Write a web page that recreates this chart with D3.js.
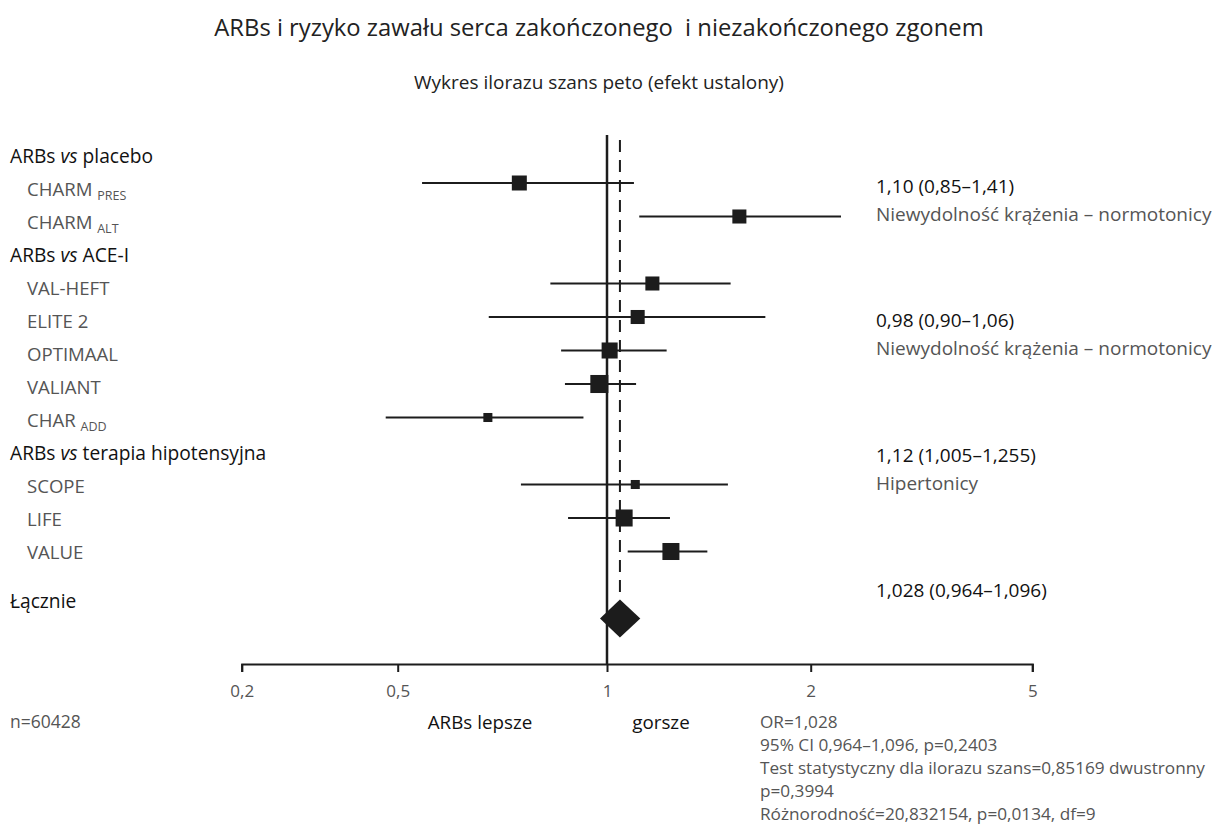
<!DOCTYPE html>
<html>
<head>
<meta charset="utf-8">
<script src="https://cdn.jsdelivr.net/npm/d3@7"></script>
<style>
  body { margin: 0; background: #fff; }
  text { font-family: "Open Sans", sans-serif; }
</style>
</head>
<body>
<div id="svg"></div>
<script>

// Values (odds ratio, 95% CI)

var study_names = ["CHARM", "CHARM", "VAL-HEFT", "ELITE 2", "OPTIMAAL",
                   "VALIANT", "CHAR", "SCOPE", "LIFE", "VALUE"];
var study_subs  = ["PRES", "ALT", "", "", "", "", "ADD", "", "", ""];
var study_rows  = [1, 2, 4, 5, 6, 7, 8, 10, 11, 12];
var or_est  = [0.748, 1.569, 1.167, 1.110, 1.009, 0.975, 0.674, 1.101, 1.060, 1.243];
var ci_lo   = [0.542, 1.116, 0.829, 0.676, 0.859, 0.870, 0.466, 0.752, 0.879, 1.073];
var ci_hi   = [1.096, 2.267, 1.523, 1.714, 1.225, 1.104, 0.925, 1.509, 1.239, 1.407];
var weights = [10.5, 9.2, 9.2, 9.2, 12.0, 15.2, 3.8, 3.8, 13.5, 13.5];

var pooled_row = 14;
var pooled_est = 1.045;
var pooled_lo  = 0.977;
var pooled_hi  = 1.12;

var group_names = ["placebo", "ACE-I", "terapia hipotensyjna"];
var group_lines = [0, 3, 9];
var total_label = "Łącznie";

var group_or   = ["1,10 (0,85–1,41)", "0,98 (0,90–1,06)",
                  "1,12 (1,005–1,255)", "1,028 (0,964–1,096)"];
var group_desc = ["Niewydolność krążenia – normotonicy",
                  "Niewydolność krążenia – normotonicy",
                  "Hipertonicy", ""];

var tick_values = [0.2, 0.5, 1, 2, 5];

var stats_lines = ["OR=1,028",
                   "95% CI 0,964–1,096, p=0,2403",
                   "Test statystyczny dla ilorazu szans=0,85169 dwustronny",
                   "p=0,3994",
                   "Różnorodność=20,832154, p=0,0134, df=9"];

var title = "ARBs i ryzyko zawału serca zakończonego  i niezakończonego zgonem";
var subtitle = "Wykres ilorazu szans peto (efekt ustalony)";


var svg = {width: 1224, height: 832};
var ink = "#1c1c1c", grey = "#555";

// the printed axis is not a true log axis, so it is piecewise between ticks
var x = d3.scaleLog()
    .domain(tick_values)
    .range([241.7, 397.7, 607, 810.7, 1032.3]);
var y = d3.scaleLinear().domain([1, 14]).range([183, 618.5]);
var label_y = d3.scaleLinear().domain([0, 12]).range([156, 552]);
var annot_y = d3.scaleLinear().domain([0, 3]).range([186, 590]);
var box = d3.scaleSqrt().domain([0, 10.5]).range([0, 15]);
var axis_y = 664;

var svg_cont = d3.select("#svg").append("svg")
    .attr("width", svg.width)
    .attr("height", svg.height);

create_titles();
create_left_labels();
create_reference_lines();
create_studies();
create_pooled();
create_axis();
create_annotations();
create_footer();


function create_titles() {
    svg_cont.append("text")
	.attr("x", 599).attr("y", 28).attr("dy", "0.35em")
	.attr("text-anchor", "middle")
	.attr("font-size", 23.8).attr("fill", "#222")
	.attr("xml:space", "preserve")
	.text(title);
    svg_cont.append("text")
	.attr("x", 599).attr("y", 82).attr("dy", "0.35em")
	.attr("text-anchor", "middle")
	.attr("font-size", 19).attr("fill", "#222")
	.text(subtitle);
}

function create_left_labels() {
    var lg = svg_cont.append("g").attr("id", "lay-labels");

    var heads = lg.selectAll(".head")
	.data(group_names)
	.enter().append("text")
	.attr("class", "head")
	.attr("x", 10)
	.attr("y", function(d, i) { return label_y(group_lines[i]); })
	.attr("dy", "0.35em")
	.attr("font-size", 19.2).attr("fill", "#111");
    heads.append("tspan").text("ARBs ");
    heads.append("tspan").attr("font-style", "italic").text("vs");
    heads.append("tspan").text(function(d) { return " " + d; });

    var names = lg.selectAll(".study")
	.data(study_names)
	.enter().append("text")
	.attr("class", "study")
	.attr("x", 27)
	.attr("y", function(d, i) { return label_y(study_rows[i]); })
	.attr("dy", "0.35em")
	.attr("font-size", 18.6).attr("fill", grey);
    names.append("tspan").text(function(d) { return d + " "; });
    names.append("tspan")
	.attr("font-size", 12.5).attr("dy", 4)
	.text(function(d, i) { return study_subs[i]; });

    lg.append("text")
	.attr("x", 10).attr("y", label_y(13.5)).attr("dy", "0.35em")
	.attr("font-size", 19.2).attr("fill", "#111")
	.text(total_label);
}

function create_reference_lines() {
    svg_cont.append("line")
	.attr("x1", x(1)).attr("x2", x(1))
	.attr("y1", 135).attr("y2", axis_y)
	.attr("stroke", ink).attr("stroke-width", 2.5);
    svg_cont.append("line")
	.attr("x1", x(pooled_est)).attr("x2", x(pooled_est))
	.attr("y1", 140).attr("y2", y(pooled_row) - 19)
	.attr("stroke", ink).attr("stroke-width", 2)
	.attr("stroke-dasharray", "12,8");
}

function create_studies() {
    var sg = svg_cont.append("g").attr("id", "lay-studies");
    sg.selectAll(".ci")
	.data(or_est)
	.enter().append("line")
	.attr("class", "ci")
	.attr("x1", function(d, i) { return x(ci_lo[i]); })
	.attr("x2", function(d, i) { return x(ci_hi[i]); })
	.attr("y1", function(d, i) { return y(study_rows[i]); })
	.attr("y2", function(d, i) { return y(study_rows[i]); })
	.attr("stroke", ink).attr("stroke-width", 2);
    sg.selectAll(".box")
	.data(or_est)
	.enter().append("rect")
	.attr("class", "box")
	.attr("x", function(d, i) { return x(d) - box(weights[i]) / 2; })
	.attr("y", function(d, i) { return y(study_rows[i]) - box(weights[i]) / 2; })
	.attr("width", function(d, i) { return box(weights[i]); })
	.attr("height", function(d, i) { return box(weights[i]); })
	.attr("fill", ink);
}

function create_pooled() {
    var cy = y(pooled_row);
    var pts = [[x(pooled_lo), cy], [x(pooled_est), cy - 19],
	       [x(pooled_hi), cy], [x(pooled_est), cy + 19]];
    svg_cont.append("path")
	.attr("d", d3.line()(pts) + "Z")
	.attr("fill", ink);
}

function create_axis() {
    var ax = svg_cont.append("g")
	.attr("transform", "translate(0," + axis_y + ")")
	.call(d3.axisBottom(x)
	      .tickValues(tick_values)
	      .tickFormat(function(d) { return String(d).replace(".", ","); })
	      .tickSize(8)
	      .tickPadding(13));
    ax.select(".domain").attr("stroke", ink).attr("stroke-width", 2);
    ax.selectAll(".tick line").attr("stroke", ink).attr("stroke-width", 2);
    ax.selectAll(".tick text")
	.attr("font-family", "'Open Sans', sans-serif")
	.attr("font-size", 17).attr("fill", grey);
}

function create_annotations() {
    var ag = svg_cont.append("g").attr("id", "lay-annot");
    ag.selectAll(".gor")
	.data(group_or)
	.enter().append("text")
	.attr("class", "gor")
	.attr("x", 876)
	.attr("y", function(d, i) { return annot_y(i); })
	.attr("dy", "0.35em")
	.attr("font-size", 19).attr("font-weight", 500).attr("fill", "#111")
	.text(function(d) { return d; });
    ag.selectAll(".gdesc")
	.data(group_desc)
	.enter().append("text")
	.attr("class", "gdesc")
	.attr("x", 876)
	.attr("y", function(d, i) { return annot_y(i) + 28; })
	.attr("dy", "0.35em")
	.attr("font-size", 19).attr("fill", grey)
	.text(function(d) { return d; });
}

function create_footer() {
    svg_cont.append("text")
	.attr("x", 10).attr("y", 722).attr("dy", "0.35em")
	.attr("font-size", 17.5).attr("fill", grey)
	.text("n=60428");
    svg_cont.append("text")
	.attr("x", 480).attr("y", 722).attr("dy", "0.35em")
	.attr("text-anchor", "middle")
	.attr("font-size", 18.8).attr("fill", "#111")
	.text("ARBs lepsze");
    svg_cont.append("text")
	.attr("x", 661).attr("y", 722).attr("dy", "0.35em")
	.attr("text-anchor", "middle")
	.attr("font-size", 18.8).attr("fill", "#111")
	.text("gorsze");
    svg_cont.selectAll(".stat")
	.data(stats_lines)
	.enter().append("text")
	.attr("class", "stat")
	.attr("x", 760)
	.attr("y", function(d, i) { return 722 + 23 * i; })
	.attr("dy", "0.35em")
	.attr("font-size", 17.2).attr("fill", grey)
	.text(function(d) { return d; });
}

</script>
</body>
</html>
